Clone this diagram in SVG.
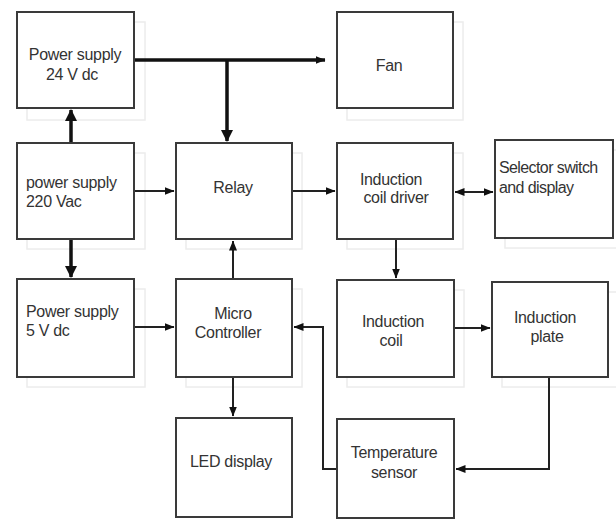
<svg xmlns="http://www.w3.org/2000/svg" width="616" height="520" viewBox="0 0 616 520">
<style>
.box{fill:#fff;stroke:#3a3a3a;stroke-width:2}
.sh{fill:none;stroke:#ececec;stroke-width:1.5}
text{font-family:"Liberation Sans",Arial,sans-serif;font-size:16px;letter-spacing:-0.3px;fill:#333}
.c{text-anchor:middle}
.thick{stroke:#111;stroke-width:3.5;fill:none}
.thin{stroke:#222;stroke-width:2;fill:none}
</style>
<defs>
<marker id="big" viewBox="0 0 12 12" refX="11" refY="6" markerWidth="12" markerHeight="12" markerUnits="userSpaceOnUse" orient="auto-start-reverse"><path d="M0,0 L12,6 L0,12 z" fill="#111"/></marker>
<marker id="sm" viewBox="0 0 10 8" refX="9.5" refY="4" markerWidth="10" markerHeight="8" markerUnits="userSpaceOnUse" orient="auto-start-reverse"><path d="M0,0 L10,4 L0,8 z" fill="#111"/></marker>
</defs>
<rect width="616" height="520" fill="#fff"/>
<g id="shadows">
<rect class="sh" x="27" y="22" width="118" height="98"/>
<rect class="sh" x="27" y="153" width="118" height="96"/>
<rect class="sh" x="27" y="289" width="118" height="98"/>
<rect class="sh" x="186" y="153" width="116" height="96"/>
<rect class="sh" x="186" y="289" width="116" height="98"/>
<rect class="sh" x="347" y="22" width="116" height="98"/>
<rect class="sh" x="347" y="153" width="116" height="96"/>
<rect class="sh" x="347" y="290" width="117" height="97"/>
<rect class="sh" x="505" y="150" width="118" height="98"/>
<rect class="sh" x="502" y="292" width="116" height="95"/>
</g>
<g id="connectors">
<path class="thick" d="M134,60 H325" marker-end="url(#sm)"/>
<path class="thick" d="M227,60 V141" marker-end="url(#big)"/>
<path class="thick" d="M71,143 V110" marker-end="url(#big)"/>
<path class="thick" d="M71,239 V277" marker-end="url(#big)"/>
<path class="thin" d="M134,191 H174" marker-end="url(#sm)"/>
<path class="thin" d="M292,191 H335" marker-end="url(#sm)"/>
<path class="thin" d="M455,192 H493" marker-start="url(#sm)" marker-end="url(#sm)"/>
<path class="thin" d="M396,239 V278" marker-end="url(#sm)"/>
<path class="thin" d="M134,327 H174" marker-end="url(#sm)"/>
<path class="thin" d="M233,279 V241" marker-end="url(#sm)"/>
<path class="thin" d="M233,377 V416" marker-end="url(#sm)"/>
<path class="thin" d="M454,328 H490" marker-end="url(#sm)"/>
<path class="thin" d="M549,377 V469 H456" marker-end="url(#sm)"/>
<path class="thin" d="M337,469 H323 V327 H294" marker-end="url(#sm)"/>
</g>
<g id="ps24"><rect class="box" x="17" y="12" width="117" height="96"/><text class="c" x="75" y="60">Power supply</text><text class="c" x="72" y="80">24 V dc</text></g>
<g id="ps220"><rect class="box" x="17" y="143" width="117" height="96"/><text x="26" y="188">power supply</text><text x="26" y="207">220 Vac</text></g>
<g id="ps5"><rect class="box" x="17" y="279" width="117" height="98"/><text x="26" y="317">Power supply</text><text x="26" y="336">5 V dc</text></g>
<g id="relay"><rect class="box" x="176" y="143" width="116" height="96"/><text class="c" x="233" y="193">Relay</text></g>
<g id="micro"><rect class="box" x="176" y="279" width="116" height="98"/><text class="c" x="233" y="319">Micro</text><text class="c" x="228" y="338">Controller</text></g>
<g id="led"><rect class="box" x="176" y="418" width="116" height="99"/><text class="c" x="231" y="467">LED display</text></g>
<g id="fan"><rect class="box" x="337" y="12" width="116" height="96"/><text class="c" x="389" y="71">Fan</text></g>
<g id="driver"><rect class="box" x="337" y="143" width="116" height="96"/><text class="c" x="391" y="185">Induction</text><text class="c" x="396" y="203">coil driver</text></g>
<g id="selector"><rect class="box" x="495" y="140" width="118" height="98"/><text x="499" y="173" style="letter-spacing:-0.6px">Selector switch</text><text x="499" y="193" style="letter-spacing:-0.6px">and display</text></g>
<g id="coil"><rect class="box" x="337" y="280" width="117" height="97"/><text class="c" x="393" y="327">Induction</text><text class="c" x="391" y="346">coil</text></g>
<g id="plate"><rect class="box" x="492" y="282" width="116" height="95"/><text class="c" x="545" y="323">Induction</text><text class="c" x="547" y="342">plate</text></g>
<g id="temp"><rect class="box" x="337" y="419" width="117" height="99"/><text class="c" x="394" y="458">Temperature</text><text class="c" x="394" y="478">sensor</text></g>
</svg>
